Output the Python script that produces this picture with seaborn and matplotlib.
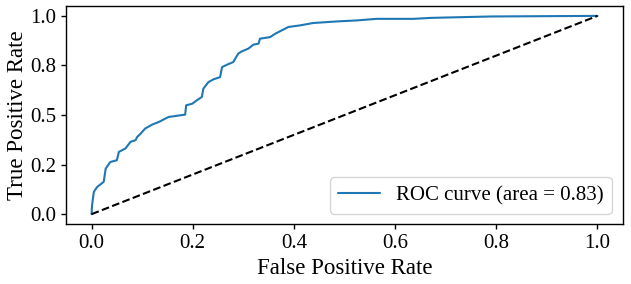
import numpy as np
import pandas as pd
import matplotlib.pyplot as plt
import seaborn as sns

# ROC curve
fpr = [0.0, 0.001, 0.0045, 0.011, 0.024, 0.028, 0.037, 0.05, 0.054, 0.067,
       0.077, 0.087, 0.09, 0.097, 0.106, 0.12, 0.133, 0.152, 0.185, 0.187,
       0.199, 0.208, 0.218, 0.221, 0.231, 0.241, 0.254, 0.258, 0.268, 0.28,
       0.29, 0.297, 0.31, 0.32, 0.33, 0.333, 0.353, 0.363, 0.376, 0.389,
       0.412, 0.438, 0.485, 0.524, 0.563, 0.636, 0.672, 0.79, 1.0]
tpr = [0.0, 0.045, 0.112, 0.137, 0.163, 0.23, 0.263, 0.272, 0.314, 0.331,
       0.365, 0.373, 0.389, 0.406, 0.432, 0.452, 0.465, 0.49, 0.502, 0.549,
       0.557, 0.574, 0.591, 0.633, 0.666, 0.68, 0.691, 0.742, 0.754, 0.767,
       0.81, 0.821, 0.835, 0.855, 0.86, 0.885, 0.893, 0.91, 0.927, 0.944,
       0.952, 0.964, 0.972, 0.977, 0.985, 0.985, 0.99, 0.997, 1.0]
roc_auc = 0.83

chance = [0.0, 1.0]
xticks = [0.0, 0.2, 0.4, 0.6, 0.8, 1.0]
yticks = [0.0, 0.25, 0.5, 0.75, 1.0]

sns.set_style('ticks')
plt.rcParams['font.family'] = ['Liberation Serif', 'DejaVu Serif']
plt.rcParams['text.color'] = 'black'
plt.rcParams['axes.labelcolor'] = 'black'
plt.rcParams['xtick.color'] = 'black'
plt.rcParams['ytick.color'] = 'black'

df = pd.DataFrame({'fpr': fpr, 'tpr': tpr})

fig, ax = plt.subplots(figsize=(6.31, 2.84), dpi=100)
sns.lineplot(data=df, x='fpr', y='tpr', sort=False, estimator=None,
             color='#1f77b4', linewidth=1.5,
             label='ROC curve (area = %0.2f)' % roc_auc, ax=ax)
ax.plot(chance, chance, 'k--', linewidth=1.5)

ax.set_xticks(xticks)
ax.set_yticks(yticks)
# labels are rounded to one decimal, so 0.25 -> 0.2 and 0.75 -> 0.8
ax.set_xticklabels(['%.1f' % t for t in xticks])
ax.set_yticklabels(['%.1f' % t for t in yticks])
ax.tick_params(labelsize=15, length=3.5, width=1)
for s in ax.spines.values():
    s.set_color('black')
    s.set_linewidth(1)
ax.set_xlabel('False Positive Rate', fontsize=16.5)
ax.set_ylabel('True Positive Rate', fontsize=16.5, labelpad=2)
ax.legend(loc='lower right', fontsize=15)

plt.subplots_adjust(left=0.105, right=0.987, top=0.979, bottom=0.211)
plt.savefig('out.png', dpi=100)
